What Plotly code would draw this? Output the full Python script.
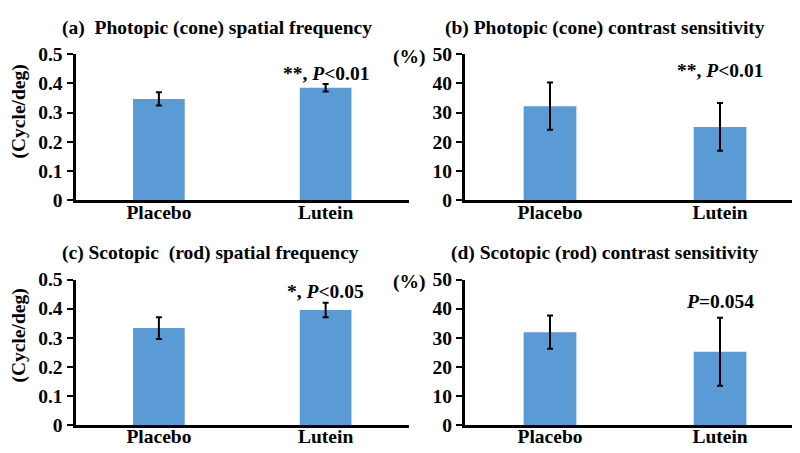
import plotly.graph_objects as go

categories = ["Placebo", "Lutein"]

# (a) Photopic (cone) spatial frequency
a_vals = [0.347, 0.385]
a_err = [0.023, 0.013]
# (b) Photopic (cone) contrast sensitivity
b_vals = [32.2, 25.1]
b_err = [8.1, 8.2]
# (c) Scotopic (rod) spatial frequency
c_vals = [0.333, 0.395]
c_err = [0.037, 0.025]
# (d) Scotopic (rod) contrast sensitivity
d_vals = [31.9, 25.2]
d_err = [5.7, 11.7]

titles = [
    "(a)\u00a0\u00a0Photopic (cone) spatial frequency",
    "(b) Photopic (cone) contrast sensitivity",
    "(c) Scotopic\u00a0\u00a0(rod) spatial frequency",
    "(d) Scotopic (rod) contrast sensitivity",
]
sig_texts = ["**, <i>P</i><0.01", "**, <i>P</i><0.01", "*, <i>P</i><0.05", "<i>P</i>=0.054"]
sig_y = [0.435, 44.4, 0.459, 42.6]
freq_ticks = [0, 0.1, 0.2, 0.3, 0.4, 0.5]
freq_ticktext = ["0", "0.1", "0.2", "0.3", "0.4", "0.5"]
pct_ticks = [0, 10, 20, 30, 40, 50]
pct_ticktext = ["0", "10", "20", "30", "40", "50"]

W, H = 800, 453
BAR = "#5B9BD5"
FONT = "'Times New Roman', 'Liberation Serif', serif"
FS = 19.5

def px_x(p):
    return p / W

def px_y(p):
    return 1 - p / H

fig = go.Figure()

panels = [
    (a_vals, a_err, "x", "y"),
    (b_vals, b_err, "x2", "y2"),
    (c_vals, c_err, "x3", "y3"),
    (d_vals, d_err, "x4", "y4"),
]
for vals, err, xa, ya in panels:
    fig.add_trace(go.Bar(
        x=categories, y=vals, width=0.31,
        marker=dict(color=BAR, line=dict(width=0)),
        error_y=dict(type="data", array=err, visible=True, color="black", thickness=2, width=3),
        xaxis=xa, yaxis=ya, showlegend=False,
    ))

xdom_left = [px_x(67.5), px_x(401)]
xdom_right = [px_x(457), px_x(797)]
ydom_top = [px_y(191), px_y(38)]
ydom_bot = [px_y(426.7), px_y(274.3)]

axfont = dict(family=FONT, size=FS, color="black", weight="bold")

def xax(dom, anchor):
    return dict(domain=dom, anchor=anchor, range=[-0.5, 1.5], showline=True, linecolor="black",
                linewidth=3, ticks="", tickfont=axfont, ticklabelstandoff=-8,
                showgrid=False, zeroline=False, fixedrange=True)

def yax(dom, anchor, rng, tv, tt):
    return dict(domain=dom, anchor=anchor, range=rng, showline=True, linecolor="black", linewidth=3,
                ticks="outside", ticklen=6, tickwidth=2, tickcolor="black", tickvals=tv, ticktext=tt,
                tickfont=axfont, showgrid=False, zeroline=False, fixedrange=True)

fig.update_layout(
    width=W, height=H,
    margin=dict(l=0, r=0, t=0, b=0),
    paper_bgcolor="white", plot_bgcolor="white",
    font=dict(family=FONT, size=FS, color="black"),
    xaxis=xax(xdom_left, "y"),
    yaxis=yax(ydom_top, "x", [0, 0.5], freq_ticks, freq_ticktext),
    xaxis2=xax(xdom_right, "y2"),
    yaxis2=yax(ydom_top, "x2", [0, 50], pct_ticks, pct_ticktext),
    xaxis3=xax(xdom_left, "y3"),
    yaxis3=yax(ydom_bot, "x3", [0, 0.5], freq_ticks, freq_ticktext),
    xaxis4=xax(xdom_right, "y4"),
    yaxis4=yax(ydom_bot, "x4", [0, 50], pct_ticks, pct_ticktext),
)

annots = []
title_pos = [(209, 11), (597, 11), (202, 246), (597, 246)]
for t, (cx, cy) in zip(titles, title_pos):
    annots.append(dict(text=f"<b>{t}</b>", x=px_x(cx), y=px_y(cy), xref="paper", yref="paper",
                       xanchor="center", yanchor="middle", showarrow=False,
                       font=dict(family=FONT, size=FS, color="black")))
refs = [("x", "y"), ("x2", "y2"), ("x3", "y3"), ("x4", "y4")]
for t, yv, (xr, yr) in zip(sig_texts, sig_y, refs):
    annots.append(dict(text=f"<b>{t}</b>", x="Lutein", y=yv, xref=xr, yref=yr,
                       xanchor="center", yanchor="middle", showarrow=False,
                       font=dict(family=FONT, size=FS, color="black")))
# y axis unit labels
for cy in (98, 333):
    annots.append(dict(text="<b>(Cycle/deg)</b>", x=px_x(11), y=px_y(cy), xref="paper", yref="paper",
                       xanchor="center", yanchor="middle", textangle=-90, showarrow=False,
                       font=dict(family=FONT, size=FS, color="black")))
for cy in (41, 277):
    annots.append(dict(text="<b>(%)</b>", x=px_x(401), y=px_y(cy), xref="paper", yref="paper",
                       xanchor="center", yanchor="middle", showarrow=False,
                       font=dict(family=FONT, size=FS, color="black")))
fig.update_layout(annotations=annots)

fig.write_html("out.html")
